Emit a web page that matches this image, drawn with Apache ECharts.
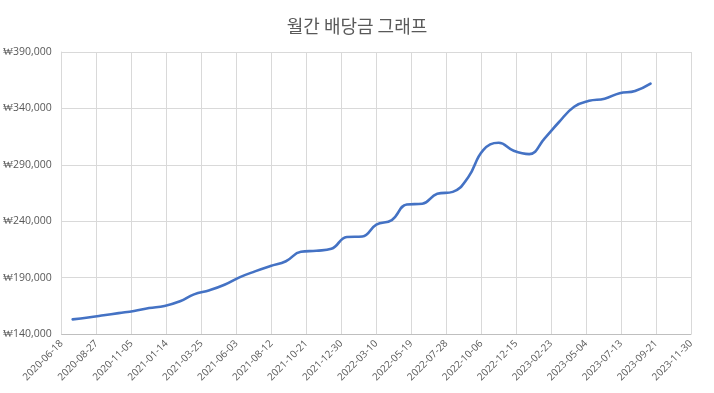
<!DOCTYPE html>
<html>
<head>
<meta charset="utf-8">
<script src="https://cdn.jsdelivr.net/npm/echarts@6/dist/echarts.min.js"></script>
<style>
html,body{margin:0;padding:0;background:#fff;}
#chart{width:714px;height:393px;}
</style>
</head>
<body>
<div id="chart"></div>
<script>
const titleText = '월간 배당금 그래프';
const dates = [
  '2020-07-10','2020-08-10','2020-09-10','2020-10-10','2020-11-10','2020-12-10',
  '2021-01-10','2021-02-10','2021-03-10','2021-04-10','2021-05-10','2021-06-10',
  '2021-07-10','2021-08-10','2021-09-10','2021-10-10','2021-11-10','2021-12-10',
  '2022-01-10','2022-02-10','2022-03-10','2022-04-10','2022-05-10','2022-06-10',
  '2022-07-10','2022-08-10','2022-09-10','2022-10-10','2022-11-10','2022-12-10',
  '2023-01-10','2023-02-10','2023-03-10','2023-04-10','2023-05-10','2023-06-10',
  '2023-07-10','2023-08-10','2023-09-10'
];
const dividends = [
  153000,154700,156600,158500,160400,163000,
  164900,169000,175100,178800,183600,190400,
  195500,200200,204500,212900,213800,215500,
  226000,226500,237000,241000,254800,255500,
  264300,266000,279000,303000,309500,302500,
  299500,313500,327500,341500,346700,348600,
  353500,355500,362000
];
const xMinDate = '2020-06-18';
const xMaxDate = '2023-11-30';
const xStepDays = 70;
const yMin = 140000, yMax = 390000, yStep = 50000;

function utc(s){ const p = s.split('-').map(Number); return Date.UTC(p[0], p[1]-1, p[2]); }
function fmtDate(v){ return new Date(v).toISOString().slice(0,10); }

const chart = echarts.init(document.getElementById('chart'));
chart.setOption({
  animation: false,
  title: {
    text: titleText,
    left: 'center',
    top: 12,
    textStyle: { fontFamily: 'Noto Sans CJK KR', fontSize: 18, fontWeight: 'normal', color: '#595959' }
  },
  grid: { left: 60, right: 23, top: 52, bottom: 59, containLabel: false },
  xAxis: {
    type: 'value',
    min: utc(xMinDate),
    max: utc(xMaxDate),
    interval: xStepDays * 86400000,
    axisLine: { show: true, lineStyle: { color: '#bfbfbf', width: 1 } },
    axisTick: { show: false },
    splitLine: { show: true, lineStyle: { color: '#d9d9d9', width: 1 } },
    axisLabel: {
      rotate: 45,
      fontFamily: 'Open Sans',
      fontSize: 10,
      color: '#595959',
      margin: 8,
      formatter: fmtDate
    }
  },
  yAxis: {
    type: 'value',
    min: yMin,
    max: yMax,
    interval: yStep,
    axisLine: { show: true, lineStyle: { color: '#d9d9d9' } },
    axisTick: { show: false },
    splitLine: { show: true, lineStyle: { color: '#d9d9d9', width: 1 } },
    axisLabel: {
      fontFamily: 'Open Sans',
      fontSize: 10.5,
      color: '#595959',
      margin: 10,
      formatter: v => '₩' + v.toLocaleString('en-US')
    }
  },
  series: [{
    type: 'line',
    data: dates.map((d, i) => [utc(d), dividends[i]]),
    smooth: 0.45,
    showSymbol: false,
    lineStyle: { color: '#4472C4', width: 2.6, cap: 'round' },
    itemStyle: { color: '#4472C4' }
  }]
});
</script>
</body>
</html>
